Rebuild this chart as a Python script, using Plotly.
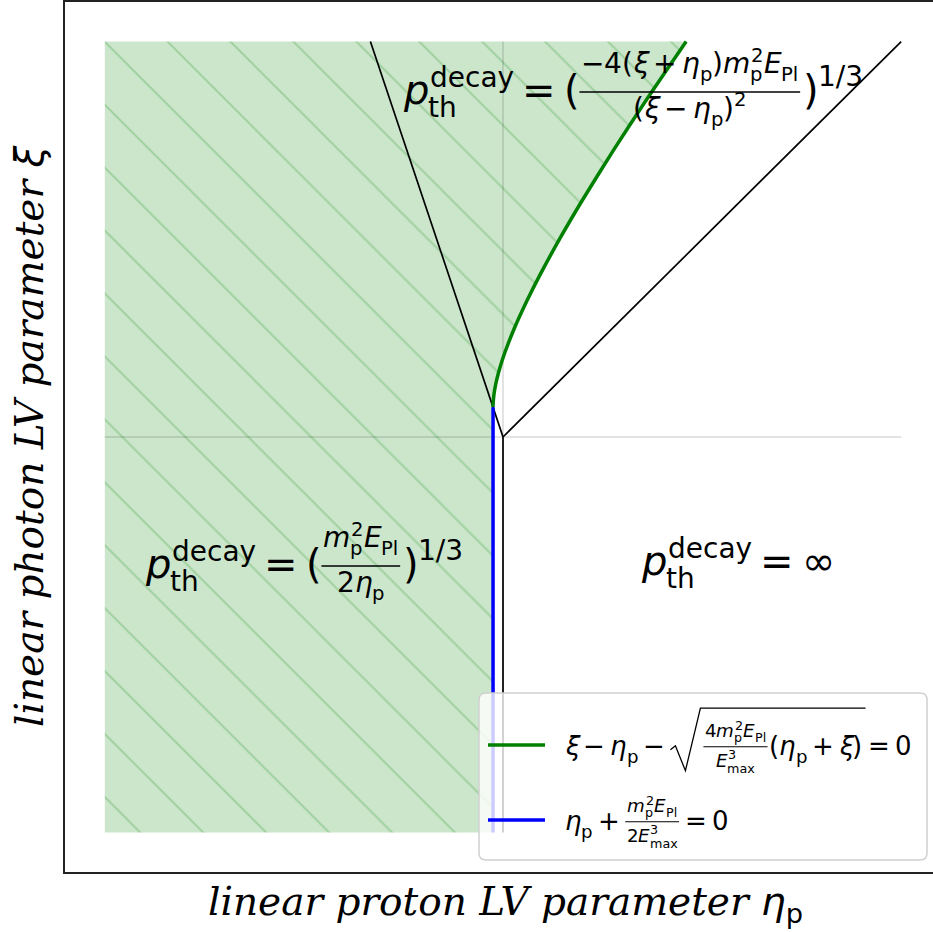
import plotly.graph_objects as go

# ---------------- data ----------------
# green boundary curve  xi - eta - sqrt(a (eta + xi)) = 0
green_eta = [-0.025, -0.0248, -0.0232, -0.0207, -0.0156, -0.0072, 0.0051, 0.0275,
             0.0586, 0.0919, 0.1447, 0.2000, 0.2764, 0.3551, 0.4600]
green_xi = [0.075, 0.0848, 0.1032, 0.1207, 0.1456, 0.1772, 0.2149, 0.2725,
            0.3414, 0.4081, 0.5053, 0.6000, 0.7236, 0.8449, 1.0000]
# blue boundary  eta_p = -const
blue_eta = [-0.025, -0.025]
blue_xi = [-1.0, 0.075]
# black separatrix lines
black1_eta = [0.0, 1.0]
black1_xi = [0.0, 1.0]
black2_eta = [-0.333, 0.0, 0.0]
black2_xi = [1.0, 0.0, -1.0]
# light reference lines through the origin
href_eta = [-1.0, 1.0]
href_xi = [0.0, 0.0]
vref_eta = [0.0, 0.0]
vref_xi = [-1.0, 1.0]
# plotted domain
eta_lim = [-1.0, 1.0]
xi_lim = [-1.0, 1.0]

# ---------------- figure geometry ----------------
W, H = 933, 932
L0, T0, B0 = 65, 2, 60
PW, PH = W - L0, H - T0 - B0
SCALE_X = (503 - L0) / 1.1
x_range = [-1.1, PW / SCALE_X - 1.1]
y_range = [-1.1, 1.1]

SANS = "DejaVu Sans"
SERIF = "DejaVu Serif"

fig = go.Figure()

fill_x = [eta_lim[0], eta_lim[0]] + green_eta[::-1] + [blue_eta[0]]
fill_y = [xi_lim[0], xi_lim[1]] + green_xi[::-1] + [blue_xi[0]]
fig.add_trace(go.Scatter(
    x=fill_x, y=fill_y, mode="none", fill="toself",
    fillcolor="rgb(204,230,204)",
    fillpattern=dict(shape="\\", size=44.5, solidity=0.045,
                     fgcolor="rgb(160,209,160)", bgcolor="rgb(204,230,204)",
                     fgopacity=1),
    hoverinfo="skip", showlegend=False))

for xs, ys in [(href_eta, href_xi), (vref_eta, vref_xi)]:
    fig.add_trace(go.Scatter(x=xs, y=ys, mode="lines",
                             line=dict(color="rgba(0,0,0,0.11)", width=2),
                             hoverinfo="skip", showlegend=False))
for xs, ys in [(black1_eta, black1_xi), (black2_eta, black2_xi)]:
    fig.add_trace(go.Scatter(x=xs, y=ys, mode="lines",
                             line=dict(color="black", width=1.7),
                             hoverinfo="skip", showlegend=False))
fig.add_trace(go.Scatter(x=green_eta, y=green_xi, mode="lines",
                         line=dict(color="green", width=3.5, shape="spline", smoothing=0.6),
                         hoverinfo="skip", showlegend=False))
fig.add_trace(go.Scatter(x=blue_eta, y=blue_xi, mode="lines",
                         line=dict(color="blue", width=3.5),
                         hoverinfo="skip", showlegend=False))

ax = dict(showgrid=False, zeroline=False, showticklabels=False, ticks="",
          showline=True, linecolor="#222", linewidth=2, fixedrange=True)
fig.update_layout(
    width=W, height=H, margin=dict(l=L0, r=0, t=T0, b=B0),
    paper_bgcolor="white", plot_bgcolor="white", showlegend=False,
    xaxis=dict(range=x_range, mirror=True, **ax),
    yaxis=dict(range=y_range, mirror=False, **ax),
)

# ---------------- pixel helpers for math typesetting ----------------
def px2p(px):
    return (px - L0) / PW


def py2p(py):
    return (T0 + PH - py) / PH


WID = {" ": 0.318, "(": 0.390, ")": 0.390, "+": 0.838, "=": 0.838, "\u2212": 0.838,
       "/": 0.337, "a": 0.613, "c": 0.550, "d": 0.635, "e": 0.615, "h": 0.634,
       "l": 0.278, "m": 0.974, "p": 0.635, "t": 0.392, "x": 0.592, "y": 0.592,
       "P": 0.603, "E": 0.632, "\u03be": 0.50, "\u03b7": 0.634, "\u221e": 0.833}
for d in "0123456789":
    WID[d] = 0.636


def tw(s, size):
    return sum(WID.get(c, 0.6) for c in s) * size


def put(px, base, s, size, it=False, fam=SANS):
    cy = base - 0.346 * size
    fig.add_annotation(x=px2p(px), y=py2p(cy), xref="paper", yref="paper",
                       text=f"<i>{s}</i>" if it else s, showarrow=False,
                       xanchor="left", yanchor="middle", borderpad=0, borderwidth=0,
                       font=dict(family=fam, size=size, color="black"))


def hline(x0, x1, y, w=1.4, color="black"):
    fig.add_shape(type="line", xref="paper", yref="paper",
                  x0=px2p(x0), x1=px2p(x1), y0=py2p(y), y1=py2p(y),
                  line=dict(color=color, width=w), layer="above")


class Run:
    def __init__(self, x, base, size, dry=False):
        self.x, self.base, self.size, self.dry = x, base, size, dry

    def t(self, s, it=False, size=None, dy=0.0):
        size = size or self.size
        if not self.dry:
            put(self.x, self.base + dy, s, size, it)
        self.x += tw(s, size)

    def sp(self, k=0.2):
        self.x += k * self.size

    def sub(self, s):
        self.t(s, size=0.7 * self.size, dy=0.3 * self.size)

    def sup(self, s):
        self.t(s, size=0.7 * self.size, dy=-0.42 * self.size)

    def subsup(self, sb, su, dx=0.0, drop=0.3, rise=0.4):
        s2 = 0.7 * self.size
        if not self.dry:
            put(self.x, self.base + drop * self.size, sb, s2)
            put(self.x + dx, self.base - rise * self.size, su, s2)
        self.x += max(tw(sb, s2), tw(su, s2) + dx)


def width_of(fn, size):
    r = Run(0, 0, size, dry=True)
    fn(r)
    return r.x


def frac(run, axis, num_fn, den_fn, fs, noff, doff, pad=1.5, bw=1.4):
    wn, wd = width_of(num_fn, fs), width_of(den_fn, fs)
    wbar = max(wn, wd) + 2 * pad
    x0 = run.x
    num_fn(Run(x0 + (wbar - wn) / 2, axis - noff, fs))
    den_fn(Run(x0 + (wbar - wd) / 2, axis + doff, fs))
    hline(x0, x0 + wbar, axis, bw)
    run.x = x0 + wbar


def p_decay(run):
    x0 = run.x
    run.t("p", it=True)
    run.x = x0 + 0.63 * run.size
    run.subsup("th", "decay", dx=0.05 * run.size, drop=0.33, rise=0.42)


M = 40
S = 28


def m2E(r):
    r.t("m", it=True)
    r.subsup("p", "2", dx=1)
    r.t("E", it=True)
    r.sub("Pl")


# ---- formula at the top ----
ax_top = 92
r = Run(403, ax_top + 0.3 * M, M)
p_decay(r)
r.sp(); r.t("="); r.sp()
r.t("(")


def num_top(q):
    q.t("\u2212"); q.t("4"); q.t("("); q.t("\u03be", it=True); q.sp(); q.t("+"); q.sp()
    q.t("\u03b7", it=True); q.sub("p"); q.t(")")
    m2E(q)


def den_top(q):
    q.t("("); q.t("\u03be", it=True); q.sp(); q.t("\u2212"); q.sp()
    q.t("\u03b7", it=True); q.sub("p"); q.t(")"); q.sup("2")


frac(r, ax_top, num_top, den_top, S, 19, 26)
r.x += 2.5
r.t(")")
r.t("1/3", size=S, dy=-0.45 * M)

# ---- formula on the left ----
ax_left = 566
r = Run(145, ax_left + 0.3 * M, M)
p_decay(r)
r.sp(); r.t("="); r.sp()
r.t("(")


def den_left(q):
    q.t("2"); q.t("\u03b7", it=True); q.sub("p")


frac(r, ax_left, m2E, den_left, S, 19, 26)
r.x += 2.5
r.t(")")
r.t("1/3", size=S, dy=-0.45 * M)

# ---- formula on the right ----
ax_right = 563
r = Run(641, ax_right + 0.3 * M, M)
p_decay(r)
r.sp(); r.t("="); r.sp()
r.t("\u221e")

# ---------------- hand-made legend ----------------
def rounded_box(x0, y0, x1, y1, rad):
    X = px2p
    Y = py2p
    return (f"M{X(x0+rad)},{Y(y0)} L{X(x1-rad)},{Y(y0)} Q{X(x1)},{Y(y0)} {X(x1)},{Y(y0+rad)} "
            f"L{X(x1)},{Y(y1-rad)} Q{X(x1)},{Y(y1)} {X(x1-rad)},{Y(y1)} "
            f"L{X(x0+rad)},{Y(y1)} Q{X(x0)},{Y(y1)} {X(x0)},{Y(y1-rad)} "
            f"L{X(x0)},{Y(y0+rad)} Q{X(x0)},{Y(y0)} {X(x0+rad)},{Y(y0)} Z")


fig.add_shape(type="path", xref="paper", yref="paper", path=rounded_box(479, 693, 927, 860, 7),
              fillcolor="rgba(255,255,255,0.8)", line=dict(color="rgb(208,208,208)", width=1.5),
              layer="above")
hline(488, 545, 745, 3.5, "green")
hline(488, 545, 820, 3.5, "blue")

LG = 26
LS = 0.7 * LG

# entry 1
ax1 = 746.7
r = Run(565, ax1 + 0.3 * LG, LG)
r.t("\u03be", it=True); r.sp(); r.t("\u2212"); r.sp()
r.t("\u03b7", it=True); r.sub("p"); r.sp(); r.t("\u2212"); r.sp()
rx = r.x
r.x = rx + 33


def num_l1(q):
    q.t("4"); m2E(q)


def den_l1(q):
    q.t("E", it=True); q.subsup("max", "3", dx=0.5, drop=0.32, rise=0.42)


frac(r, ax1, num_l1, den_l1, LS, 10, 20, pad=1.5, bw=1.1)
r.x += 1.5
r.t("("); r.t("\u03b7", it=True); r.sub("p"); r.sp(); r.t("+"); r.sp()
r.t("\u03be", it=True); r.t(")")
bar_end = r.x + 3
X, Y = px2p, py2p
fig.add_shape(type="path", xref="paper", yref="paper", layer="above",
              path=(f"M{X(rx)},{Y(ax1+3)} L{X(rx+5)},{Y(ax1-1)} L{X(rx+15)},{Y(ax1+24)} "
                    f"L{X(rx+30)},{Y(ax1-38.5)} L{X(bar_end)},{Y(ax1-38.5)}"),
              line=dict(color="black", width=1.3))
r.sp(); r.t("="); r.sp(); r.t("0")

# entry 2
ax2 = 821.7
r = Run(565, ax2 + 0.3 * LG, LG)
r.t("\u03b7", it=True); r.sub("p"); r.sp(); r.t("+"); r.sp()


def den_l2(q):
    q.t("2"); q.t("E", it=True); q.subsup("max", "3", dx=0.5, drop=0.32, rise=0.42)


frac(r, ax2, m2E, den_l2, LS, 10, 20, pad=1.5, bw=1.1)
r.x += 1
r.sp(); r.t("="); r.sp(); r.t("0")

# ---------------- axis labels ----------------
fig.add_annotation(x=px2p(505), y=py2p(904), xref="paper", yref="paper", showarrow=False,
                   xanchor="center", yanchor="middle",
                   text=("<i>linear proton LV parameter </i>"
                         "<span style=\"font-family:DejaVu Sans\"><i>\u03b7</i><sub>p</sub></span>"),
                   font=dict(family=SERIF, size=39, color="black"))
fig.add_annotation(x=px2p(29), y=py2p(437), xref="paper", yref="paper", showarrow=False,
                   xanchor="center", yanchor="middle", textangle=-90,
                   text=("<i>linear photon LV parameter </i>"
                         "<span style=\"font-family:DejaVu Sans\"><i>\u03be</i></span>"),
                   font=dict(family=SERIF, size=39, color="black"))

fig.write_html("out.html", config={"displayModeBar": False},
               post_script="document.body.style.margin='0';document.body.style.overflow='hidden';")
